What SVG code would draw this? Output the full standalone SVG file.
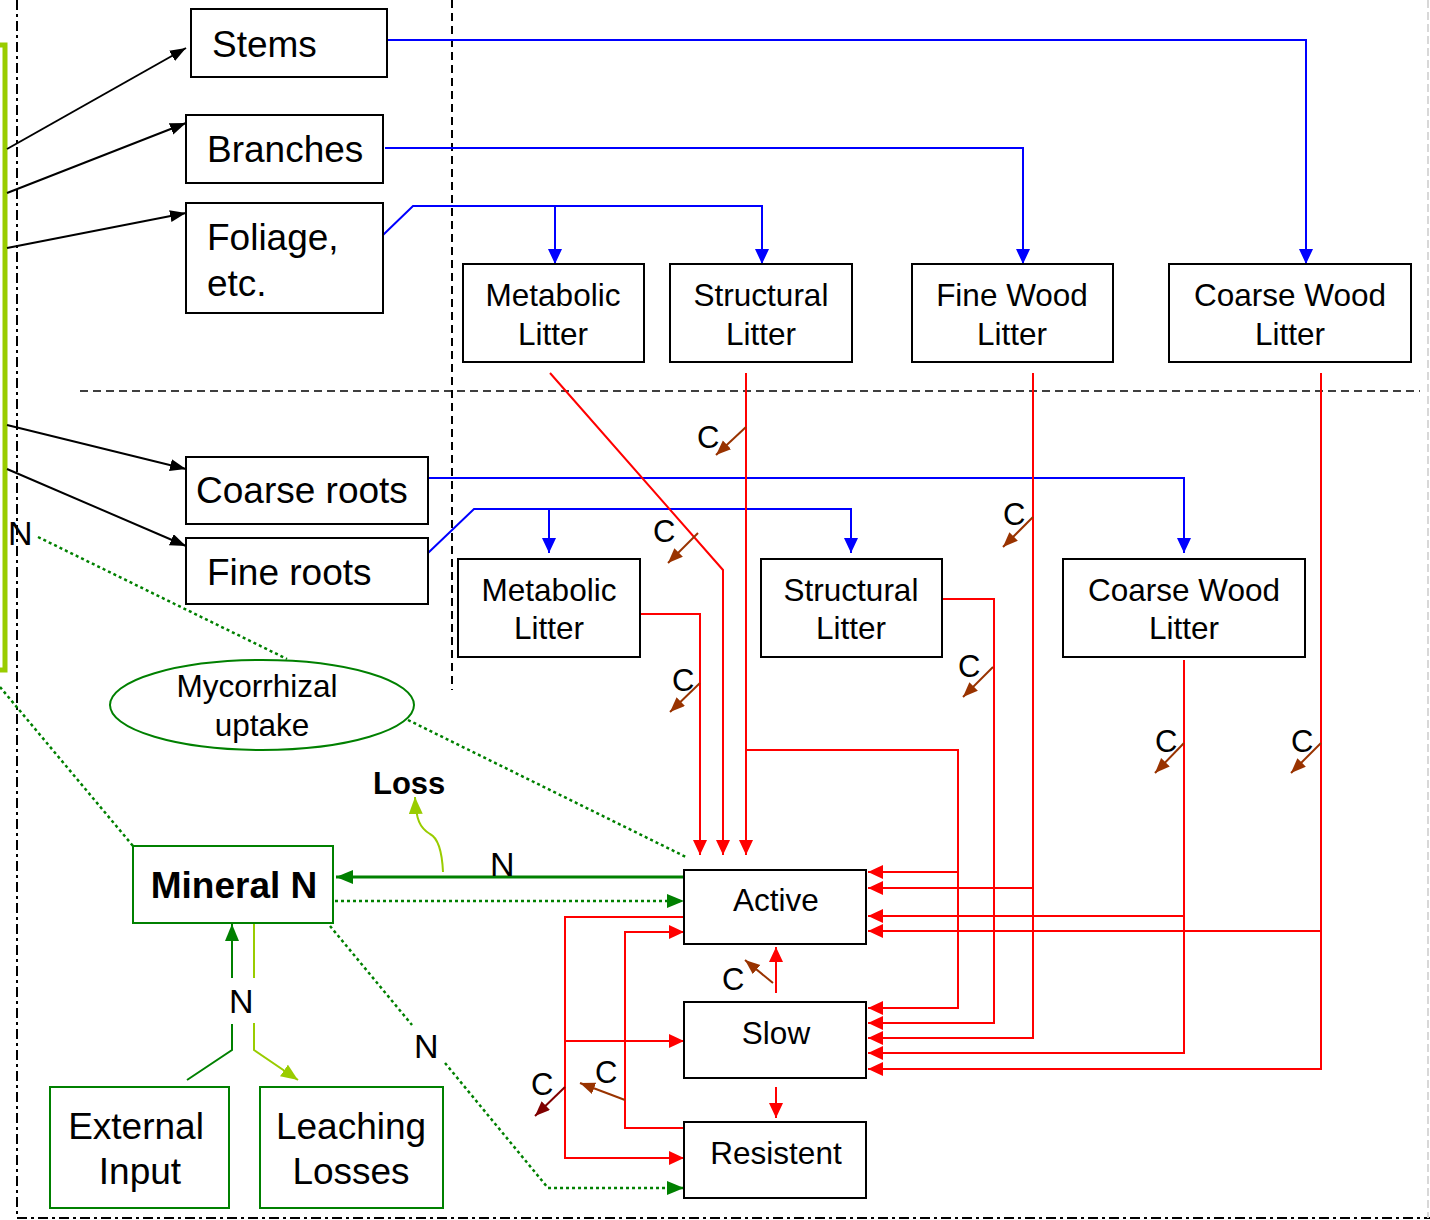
<svg xmlns="http://www.w3.org/2000/svg" width="1430" height="1220" viewBox="0 0 1430 1220">
<style>
text{font-family:"Liberation Sans",Arial,sans-serif;fill:#000}
.box{fill:#fff;stroke:#000;stroke-width:2}
.gbox{fill:#fff;stroke:#008000;stroke-width:2}
.big{font-size:37px}
.mid{font-size:31.5px}
.c{font-size:31px}
.blk{fill:none;stroke:#000;stroke-width:2}
.blu{fill:none;stroke:#0000ff;stroke-width:2}
.red{fill:none;stroke:#ff0000;stroke-width:2}
.brn{fill:none;stroke:#993300;stroke-width:2}
.grn{fill:none;stroke:#008000;stroke-width:2}
.gdot{fill:none;stroke:#008000;stroke-width:2.5;stroke-dasharray:3 3}
.lg{fill:none;stroke:#99cc00;stroke-width:2}
</style>
<defs>
<marker id="mk" markerUnits="userSpaceOnUse" markerWidth="18" markerHeight="14" refX="16" refY="6" orient="auto"><path d="M0,0 L16,6 L0,12z" fill="#000"/></marker>
<marker id="mb" markerUnits="userSpaceOnUse" markerWidth="16" markerHeight="14" refX="15" refY="7" orient="auto"><path d="M0,0 L15,7 L0,14z" fill="#0000ff"/></marker>
<marker id="mr" markerUnits="userSpaceOnUse" markerWidth="16" markerHeight="14" refX="15" refY="7" orient="auto"><path d="M0,0 L15,7 L0,14z" fill="#ff0000"/></marker>
<marker id="mn" markerUnits="userSpaceOnUse" markerWidth="16" markerHeight="14" refX="15" refY="6" orient="auto"><path d="M0,0 L15,6 L0,12z" fill="#993300"/></marker>
<marker id="md" markerUnits="userSpaceOnUse" markerWidth="16" markerHeight="14" refX="15" refY="6" orient="auto"><path d="M0,0 L15,6 L0,12z" fill="#800000"/></marker>
<marker id="mg" markerUnits="userSpaceOnUse" markerWidth="18" markerHeight="16" refX="17" refY="7" orient="auto"><path d="M0,0 L17,7 L0,14z" fill="#008000"/></marker>
<marker id="ml" markerUnits="userSpaceOnUse" markerWidth="18" markerHeight="16" refX="17" refY="7" orient="auto"><path d="M0,0 L17,7 L0,14z" fill="#99cc00"/></marker>
</defs>

<g id="frame">
<line x1="17" y1="0" x2="17" y2="1218" stroke="#000" stroke-width="2" stroke-dasharray="10 4 3 4"/>
<line x1="17" y1="1218" x2="1430" y2="1218" stroke="#000" stroke-width="2" stroke-dasharray="10 4 3 4"/>
<line x1="1428" y1="0" x2="1428" y2="1218" stroke="#d8d8d8" stroke-width="2" stroke-dasharray="8 4"/>
<line x1="452" y1="0" x2="452" y2="690" stroke="#000" stroke-width="2" stroke-dasharray="8 5"/>
<line x1="80" y1="391" x2="1420" y2="391" stroke="#000" stroke-width="1.5" stroke-dasharray="8 5"/>
<rect x="-100" y="45" width="105" height="625" fill="none" stroke="#99cc00" stroke-width="5"/>
</g>

<g id="connectors">
<line class="blk" x1="7" y1="149" x2="186" y2="48" marker-end="url(#mk)"/>
<line class="blk" x1="7" y1="193" x2="186" y2="123" marker-end="url(#mk)"/>
<line class="blk" x1="7" y1="248" x2="186" y2="213" marker-end="url(#mk)"/>
<line class="blk" x1="7" y1="425" x2="186" y2="469" marker-end="url(#mk)"/>
<line class="blk" x1="7" y1="469" x2="186" y2="546" marker-end="url(#mk)"/>

<path class="blu" d="M387,40 H1306 V264" marker-end="url(#mb)"/>
<path class="blu" d="M385,148 H1023 V264" marker-end="url(#mb)"/>
<path class="blu" d="M383,235 L413,206 H762 V264" marker-end="url(#mb)"/>
<path class="blu" d="M555,206 V264" marker-end="url(#mb)"/>
<path class="blu" d="M428,478 H1184 V553" marker-end="url(#mb)"/>
<path class="blu" d="M428,553 L474,509 H851 V553" marker-end="url(#mb)"/>
<path class="blu" d="M549,509 V553" marker-end="url(#mb)"/>

<path class="red" d="M550,373 L723,570 V855" marker-end="url(#mr)"/>
<path class="red" d="M746,373 V855" marker-end="url(#mr)"/>
<path class="red" d="M640,614 H700 V855" marker-end="url(#mr)"/>
<path class="red" d="M746,750 H958 V1008 H868" marker-end="url(#mr)"/>
<path class="red" d="M958,872 H868" marker-end="url(#mr)"/>
<path class="red" d="M942,599 H994 V1023 H868" marker-end="url(#mr)"/>
<path class="red" d="M1033,373 V1038 H868" marker-end="url(#mr)"/>
<path class="red" d="M1033,888 H868" marker-end="url(#mr)"/>
<path class="red" d="M1184,660 V1053 H868" marker-end="url(#mr)"/>
<path class="red" d="M1184,916 H868" marker-end="url(#mr)"/>
<path class="red" d="M1321,373 V1069 H868" marker-end="url(#mr)"/>
<path class="red" d="M1321,931 H868" marker-end="url(#mr)"/>
<path class="red" d="M684,917 H565 V1158 H684" marker-end="url(#mr)"/>
<path class="red" d="M565,1041 H684" marker-end="url(#mr)"/>
<path class="red" d="M684,1128 H625 V932 H684" marker-end="url(#mr)"/>
<path class="red" d="M776,993 V947" marker-end="url(#mr)"/>
<path class="red" d="M776,1087 V1118" marker-end="url(#mr)"/>

<line class="brn" x1="746" y1="427" x2="716" y2="455" marker-end="url(#mn)"/>
<line class="brn" x1="698" y1="533" x2="668" y2="563" marker-end="url(#mn)"/>
<line class="brn" x1="700" y1="683" x2="670" y2="712" marker-end="url(#mn)"/>
<line class="brn" x1="993" y1="667" x2="963" y2="697" marker-end="url(#mn)"/>
<line class="brn" x1="1033" y1="517" x2="1003" y2="547" marker-end="url(#mn)"/>
<line class="brn" x1="1184" y1="743" x2="1155" y2="773" marker-end="url(#mn)"/>
<line class="brn" x1="1321" y1="743" x2="1291" y2="773" marker-end="url(#mn)"/>
<line class="brn" x1="773" y1="983" x2="745" y2="960" marker-end="url(#mn)"/>
<line class="brn" x1="625" y1="1100" x2="580" y2="1083" marker-end="url(#mn)"/>
<line x1="565" y1="1087" x2="535" y2="1116" stroke="#800000" stroke-width="2" marker-end="url(#md)"/>

<path d="M684,877 H336" fill="none" stroke="#008000" stroke-width="3" marker-end="url(#mg)"/>
<path class="gdot" d="M335,901 H684" marker-end="url(#mg)"/>
<path class="gdot" d="M408,720 L686,857"/>
<path class="gdot" d="M38,537 L287,659"/>
<path class="gdot" d="M0,687 L133,846"/>
<path class="gdot" d="M330,926 L412,1025"/>
<path class="gdot" d="M445,1063 L548,1188 H684" marker-end="url(#mg)"/>
<path class="grn" d="M187,1080 L232,1050 V1024"/>
<path class="grn" d="M232,978 V924" marker-end="url(#mg)"/>
<path class="lg" d="M254,923 V978"/>
<path class="lg" d="M254,1023 V1050 L298,1080" marker-end="url(#ml)"/>
<path class="lg" d="M443,872 C442,850 438,838 430,834 C420,828 416,820 415,797" marker-end="url(#ml)"/>
</g>

<g id="stems"><rect class="box" x="191" y="9" width="196" height="68"/><text class="big" x="212" y="57">Stems</text></g>
<g id="branches"><rect class="box" x="186" y="115" width="197" height="68"/><text class="big" x="207" y="162">Branches</text></g>
<g id="foliage"><rect class="box" x="186" y="203" width="197" height="110"/><text class="big" x="207" y="250">Foliage,</text><text class="big" x="207" y="296">etc.</text></g>
<g id="coarse-roots"><rect class="box" x="186" y="457" width="242" height="67"/><text class="big" x="196" y="503">Coarse roots</text></g>
<g id="fine-roots"><rect class="box" x="186" y="538" width="242" height="66"/><text class="big" x="207" y="585">Fine roots</text></g>

<g id="metabolic-top"><rect class="box" x="463" y="264" width="181" height="98"/><text class="mid" x="553" y="306" text-anchor="middle">Metabolic</text><text class="mid" x="553" y="345" text-anchor="middle">Litter</text></g>
<g id="structural-top"><rect class="box" x="670" y="264" width="182" height="98"/><text class="mid" x="761" y="306" text-anchor="middle">Structural</text><text class="mid" x="761" y="345" text-anchor="middle">Litter</text></g>
<g id="finewood-top"><rect class="box" x="912" y="264" width="201" height="98"/><text class="mid" x="1012" y="306" text-anchor="middle">Fine Wood</text><text class="mid" x="1012" y="345" text-anchor="middle">Litter</text></g>
<g id="coarsewood-top"><rect class="box" x="1169" y="264" width="242" height="98"/><text class="mid" x="1290" y="306" text-anchor="middle">Coarse Wood</text><text class="mid" x="1290" y="345" text-anchor="middle">Litter</text></g>

<g id="metabolic-low"><rect class="box" x="458" y="559" width="182" height="98"/><text class="mid" x="549" y="601" text-anchor="middle">Metabolic</text><text class="mid" x="549" y="639" text-anchor="middle">Litter</text></g>
<g id="structural-low"><rect class="box" x="761" y="559" width="181" height="98"/><text class="mid" x="851" y="601" text-anchor="middle">Structural</text><text class="mid" x="851" y="639" text-anchor="middle">Litter</text></g>
<g id="coarsewood-low"><rect class="box" x="1063" y="559" width="242" height="98"/><text class="mid" x="1184" y="601" text-anchor="middle">Coarse Wood</text><text class="mid" x="1184" y="639" text-anchor="middle">Litter</text></g>

<g id="active"><rect class="box" x="684" y="870" width="182" height="74"/><text class="mid" x="776" y="911" text-anchor="middle">Active</text></g>
<g id="slow"><rect class="box" x="684" y="1002" width="182" height="76"/><text class="mid" x="776" y="1044" text-anchor="middle">Slow</text></g>
<g id="resistent"><rect class="box" x="684" y="1122" width="182" height="76"/><text class="mid" x="776" y="1164" text-anchor="middle">Resistent</text></g>

<g id="mineral-n"><rect class="gbox" x="133" y="846" width="200" height="77"/><text class="big" x="234" y="898" text-anchor="middle" font-weight="bold">Mineral N</text></g>
<g id="external-input"><rect class="gbox" x="50" y="1087" width="179" height="121"/><text class="big" x="136" y="1139" text-anchor="middle">External</text><text class="big" x="140" y="1184" text-anchor="middle">Input</text></g>
<g id="leaching-losses"><rect class="gbox" x="260" y="1087" width="183" height="121"/><text class="big" x="351" y="1139" text-anchor="middle">Leaching</text><text class="big" x="351" y="1184" text-anchor="middle">Losses</text></g>
<g id="mycorrhizal"><ellipse cx="262" cy="705" rx="152" ry="45" fill="#fff" stroke="#008000" stroke-width="2"/><text class="mid" x="257" y="697" text-anchor="middle">Mycorrhizal</text><text class="mid" x="262" y="736" text-anchor="middle">uptake</text></g>

<g id="labels">
<text class="c" x="697" y="448">C</text>
<text class="c" x="653" y="542">C</text>
<text class="c" x="672" y="691">C</text>
<text class="c" x="958" y="677">C</text>
<text class="c" x="1003" y="525">C</text>
<text class="c" x="1155" y="752">C</text>
<text class="c" x="1291" y="752">C</text>
<text class="c" x="722" y="990">C</text>
<text class="c" x="595" y="1083">C</text>
<text class="c" x="531" y="1095">C</text>
<text x="490" y="876" font-size="34">N</text>
<text x="229" y="1013" font-size="34">N</text>
<text x="414" y="1058" font-size="34">N</text>
<text x="8" y="545" font-size="34">N</text>
<text x="373" y="794" font-size="31" font-weight="bold">Loss</text>
</g>
</svg>
